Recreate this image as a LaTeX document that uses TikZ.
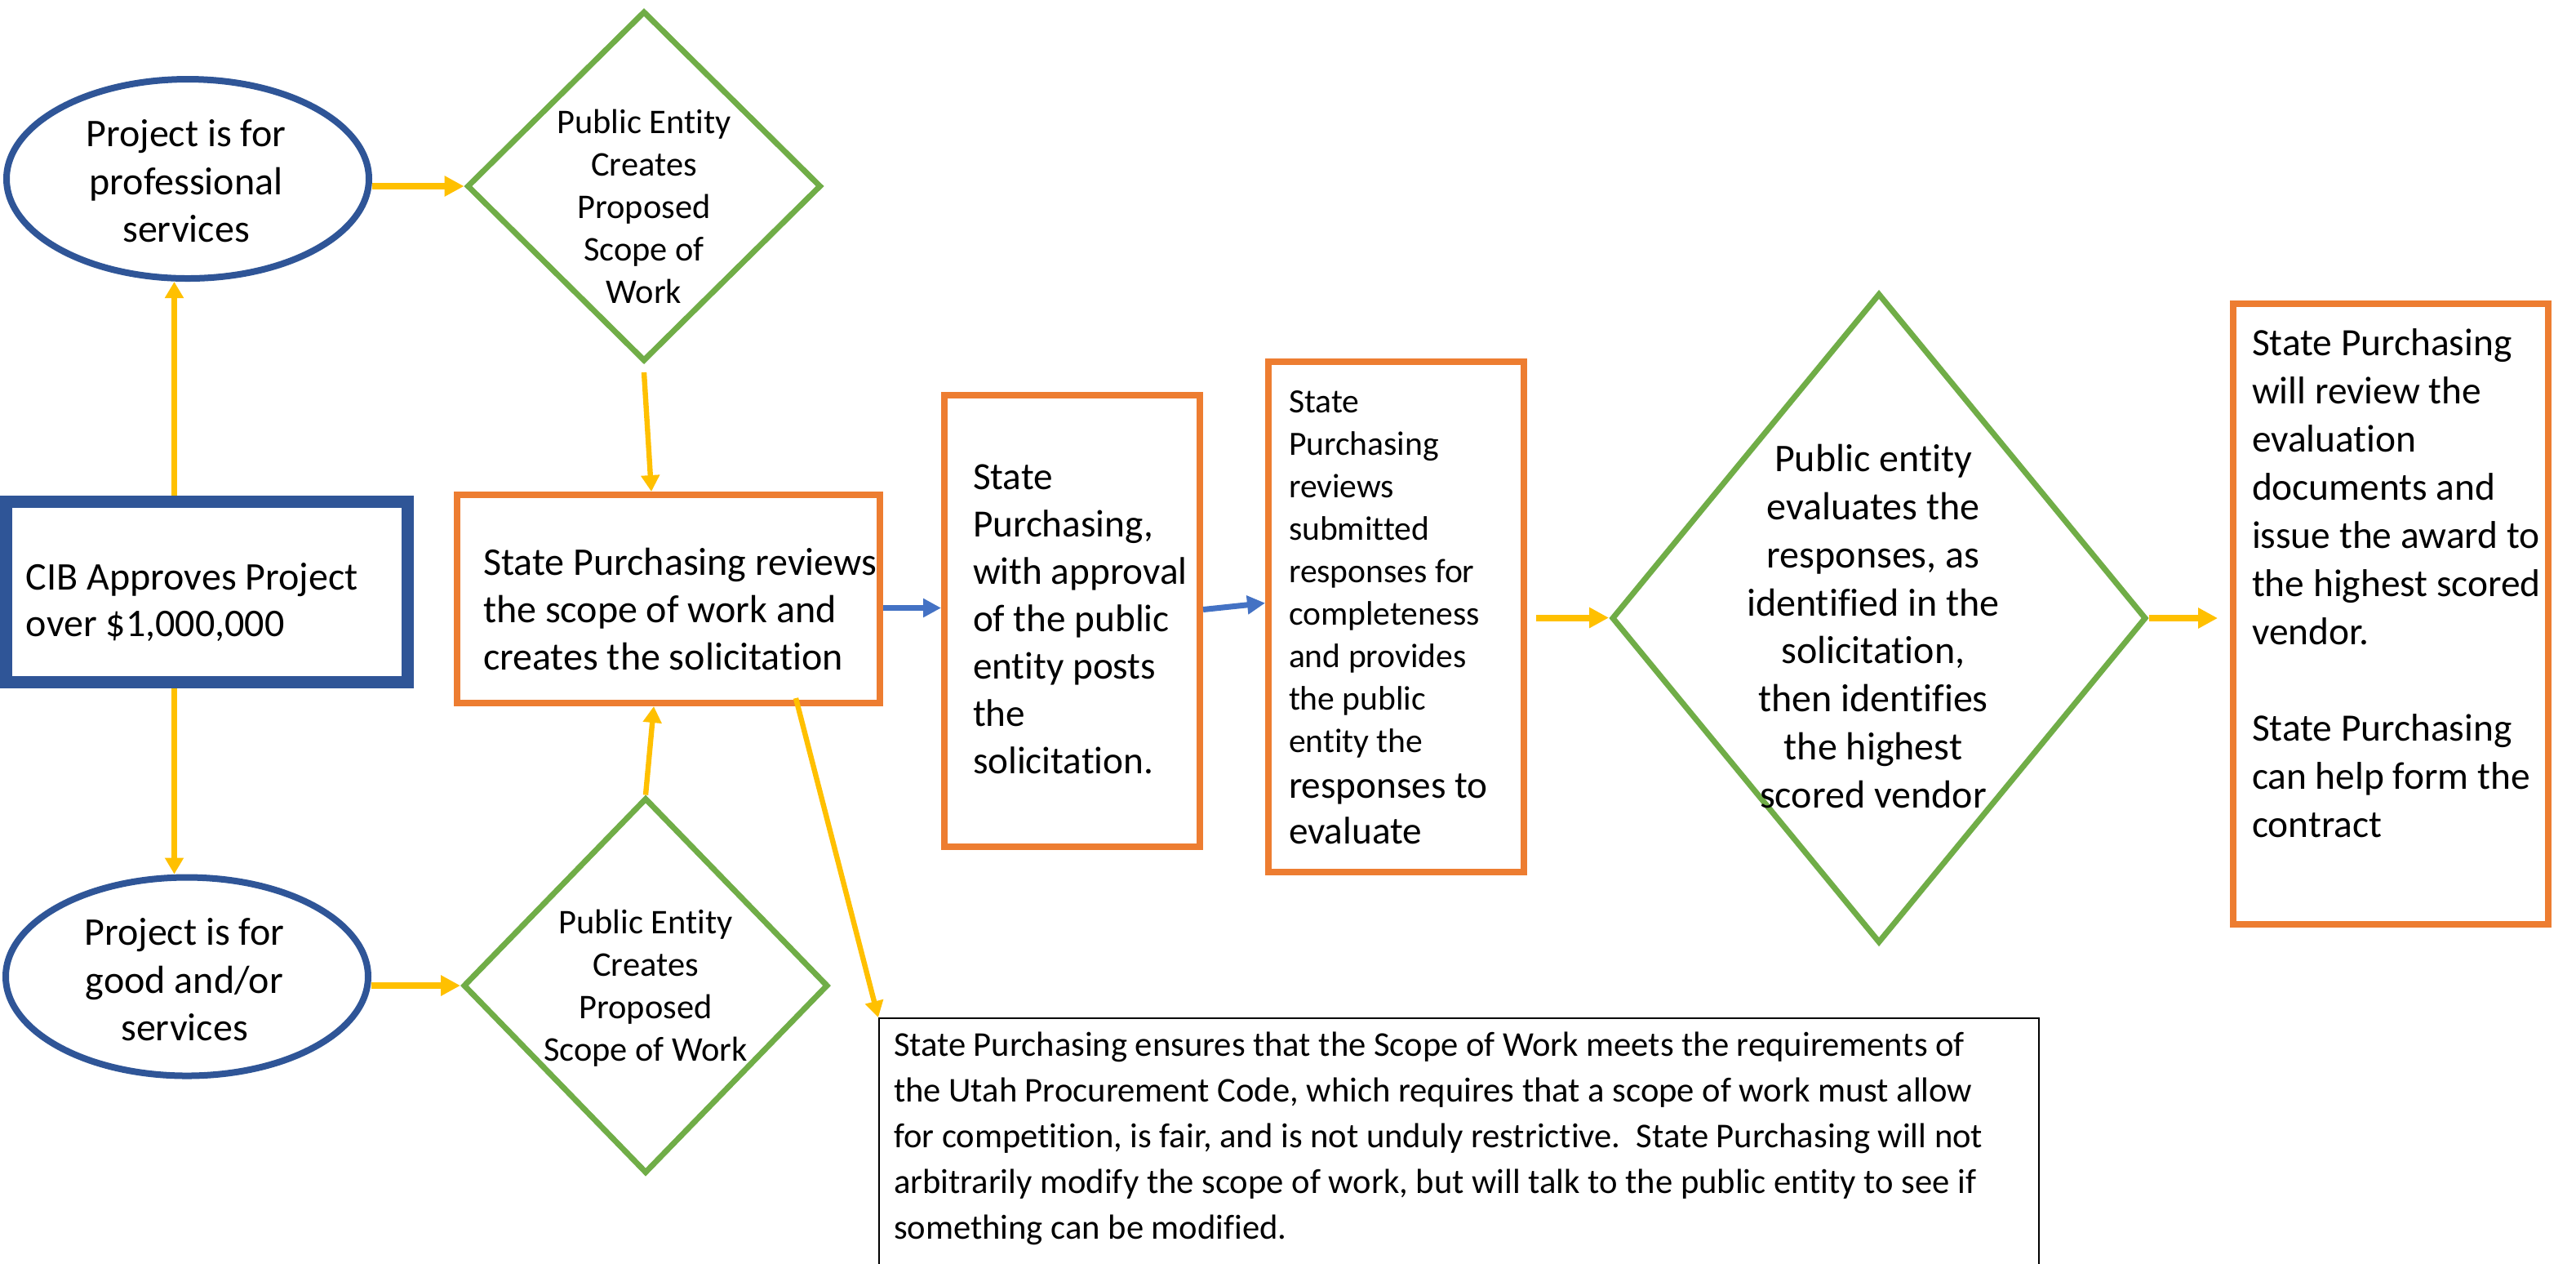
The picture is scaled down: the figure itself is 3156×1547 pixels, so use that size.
\documentclass[tikz,border=0pt]{standalone}
\usepackage{fontspec}
\setmainfont{Carlito}[Ligatures={NoCommon,NoContextual,NoRequired}]
\usetikzlibrary{shapes.geometric,arrows.meta,calc}
\definecolor{cibblue}{HTML}{2F5597}
\definecolor{pgreen}{HTML}{70AD47}
\definecolor{porange}{HTML}{ED7D31}
\definecolor{pyellow}{HTML}{FFC000}
\definecolor{pblue}{HTML}{4472C4}
\begin{document}
\begin{tikzpicture}[x=0.25pt,y=-0.25pt,
  ellbox/.style={ellipse,draw=cibblue,line width=2pt,inner sep=0pt},
  dbox/.style={diamond,draw=pgreen,line width=1.75pt,inner sep=0pt},
  obox/.style={rectangle,draw=porange,line width=2pt,inner sep=0pt},
  txt/.style={inner sep=0pt,outer sep=0pt},
  ythin/.style={draw=pyellow,line width=1.6pt,-{Triangle[length=5pt,width=5.5pt]}},
  ythick/.style={draw=pyellow,line width=2pt,-{Triangle[length=6pt,width=6pt]}},
  bthick/.style={draw=pblue,line width=1.75pt,-{Triangle[length=5.5pt,width=5.5pt]}}
]
\useasboundingbox (0,0) rectangle (3156,1547);
\clip (0,0) rectangle (3156,1547);
\fill[white] (0,0) rectangle (3156,1547);

% shapes
\node[ellbox,minimum width=111pt,minimum height=61pt] (E1) at (230,219) {};
\node[ellbox,minimum width=111pt,minimum height=60.75pt] (E2) at (229,1196) {};
\node[dbox,minimum width=108.5pt,minimum height=107.25pt] (D1) at (789,228) {};
\node[dbox,minimum width=111.75pt,minimum height=115pt] (D2) at (791,1207) {};
\node[dbox,minimum width=163.75pt,minimum height=199pt] (D3) at (2302,757) {};
\node[rectangle,draw=cibblue,line width=3.75pt,minimum width=123pt,minimum height=55.25pt,inner sep=0pt] (CIB) at (253.5,725) {};
\node[obox,minimum width=129.5pt,minimum height=63.75pt] (B1) at (819,733.5) {};
\node[obox,minimum width=78.25pt,minimum height=138.25pt] (B2) at (1313.5,760.5) {};
\node[obox,minimum width=78.25pt,minimum height=156.25pt] (B3) at (1710.5,755.5) {};
\node[obox,minimum width=96.5pt,minimum height=190pt] (B4) at (2929,752) {};
\node[rectangle,draw=black,line width=0.5pt,minimum width=355.25pt,minimum height=88.25pt,inner sep=0pt] (B5) at (1787.5,1423.5) {};

% texts
\node[txt,align=center,font=\fontsize{12}{14.65}\selectfont] (tE1) at (228,222) {Project is for\\professional\\services};
\node[txt,align=center,font=\fontsize{12}{14.65}\selectfont] (tE2) at (226,1200) {Project is for\\good and/or\\services};
\node[txt,align=center,font=\fontsize{10.6}{13}\selectfont] (tD1) at (789,253) {Public Entity\\Creates\\Proposed\\Scope of\\Work};
\node[txt,align=center,font=\fontsize{10.6}{13}\selectfont] (tD2) at (791,1210) {Public Entity\\Creates\\Proposed\\Scope of Work};
\node[txt,align=center,font=\fontsize{12}{14.7}\selectfont] (tD3) at (2295,767) {Public entity\\evaluates the\\responses, as\\identified in the\\solicitation,\\then identifies\\the highest\\scored vendor};
\node[txt,align=left,anchor=west,font=\fontsize{12}{14.25}\selectfont] (tCIB) at (32,738) {CIB Approves Project\\over \$1,000,000};
\node[txt,align=left,anchor=west,font=\fontsize{12}{14.6}\selectfont] (tB1) at (592,746) {State Purchasing reviews\\the scope of work and\\creates the solicitation};
\node[txt,align=left,anchor=west,font=\fontsize{11.8}{14.5}\selectfont] (tB2) at (1192,758) {State\\Purchasing,\\with approval\\of the public\\entity posts\\the\\solicitation.};
\node[txt,align=left,anchor=west,font=\fontsize{10.4}{13}\selectfont] (tB3) at (1579,756) {State\\Purchasing\\reviews\\submitted\\responses for\\completeness\\and provides\\the public\\entity the\\[1pt]{\fontsize{11.8}{14}\selectfont responses to}\\[1pt]{\fontsize{11.8}{14}\selectfont evaluate}};
\node[txt,align=left,anchor=west,font=\fontsize{11.85}{14.75}\selectfont] (tB4) at (2759,714) {State Purchasing\\will review the\\evaluation\\documents and\\issue the award to\\the highest scored\\vendor.\\[14.75pt]State Purchasing\\can help form the\\contract};
\node[txt,align=left,anchor=west,font=\fontsize{10.65}{14}\selectfont] (tB5) at (1095,1394) {State Purchasing ensures that the Scope of Work meets the requirements of\\the Utah Procurement Code, which requires that a scope of work must allow\\for competition, is fair, and is not unduly restrictive.\ \ State Purchasing will not\\arbitrarily modify the scope of work, but will talk to the public entity to see if\\something can be modified.};

% connectors
\coordinate (c1) at ($(CIB.north)+(-40,0)$);
\draw[ythin] (c1) -- (c1 |- E1.south);
\coordinate (c2) at ($(CIB.south)+(-40,0)$);
\draw[ythin] (c2) -- (c2 |- E2.north);
\draw[ythick] (E1.east |- D1.west) -- (D1.west);
\draw[ythick] (E2.east |- D2.west) -- (D2.west);
\draw[ythin] ($(D1.south)+(0,10)$) -- ($(B1.north)+(-21,0)$);
\draw[ythin] (D2.north) -- ($(B1.south)+(-18,0)$);
\draw[ythin] ($(B1.south)+(156,-10)$) -- (B5.north west);
\coordinate (c5) at ($(B1.east)+(0,11)$);
\draw[bthick] (c5) -- (c5 -| B2.west);
\draw[bthick] ($(B2.east)+(0,-14)$) -- ($(B3.west)+(0,-17)$);
\coordinate (c6) at ($(B3.east)+(11,1)$);
\draw[ythick] (c6) -- (c6 -| D3.west);
\coordinate (c7) at ($(D3.east -| B4.west)+(-15,0)$);
\draw[ythick] (D3.east) -- (c7);
\end{tikzpicture}
\end{document}
